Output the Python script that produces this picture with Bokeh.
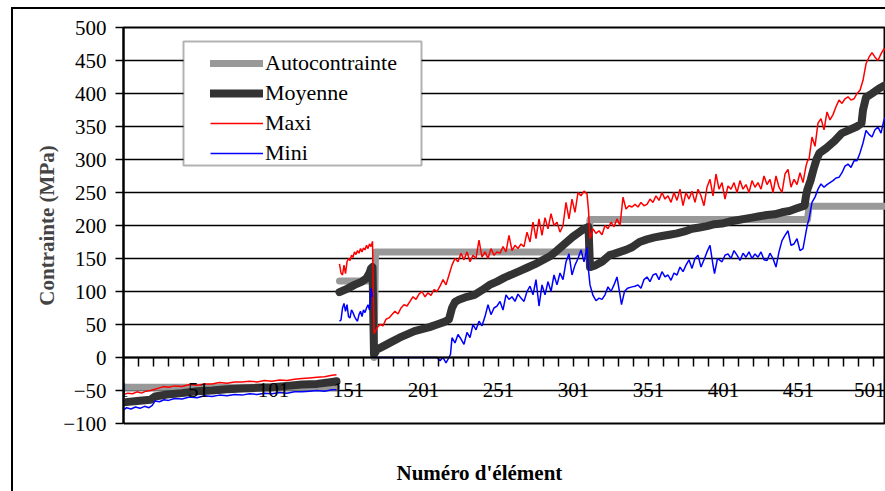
import math
from bokeh.plotting import figure
from bokeh.models import (LinearAxis, FixedTicker, Legend, LegendItem, Title,
                          BoxAnnotation, Range1d)
from bokeh.embed import file_html
from bokeh.resources import INLINE

nan = float("nan")

# ---------------- data ----------------
auto_x = [1, 143, 144, 145, 167, 168, 169, 311, 312, 457, 458, 510]
auto_y = [-45, -45, nan, 116, 116, 0, 160, 160, 209, 209, 229, 229]

moy_x = [1, 10, 19, 22, 30, 40, 50, 60, 70, 80, 90, 100, 110, 120, 130, 140, 143, 144,
         145, 150, 155, 160, 163, 165, 166, 167,
         168, 170, 175, 180, 185, 190, 195, 200, 205, 210, 215, 218, 220, 222, 225, 230, 235,
         240, 245, 250, 255, 260, 265, 270, 275, 280, 285, 290, 295, 300, 305, 308, 311,
         312, 315, 320, 325, 328, 332, 336, 340, 345, 350, 355, 360, 365, 370, 375, 380, 385,
         390, 395, 400, 405, 410, 415, 420, 425, 430, 435, 440, 445, 450, 455,
         456, 457, 459, 461, 463, 465, 470, 475, 480, 485, 490, 493, 494, 496, 500, 505, 510]
moy_y = [-68, -66, -64, -59, -56, -54, -51, -50, -48, -47, -46, -45, -43, -41, -40, -37, -36, nan,
         99, 104, 110, 115, 120, 128, 135, 137,
         5, 12, 18, 24, 30, 35, 40, 43, 46, 50, 54, 58, 75, 84, 88, 92, 95,
         102, 110, 115, 121, 126, 131, 136, 141, 147, 153, 162, 172, 182, 190, 195, 198,
         137, 139, 145, 155, 157, 160, 163, 167, 175, 179, 182, 184, 186, 188, 191, 195, 197,
         199, 202, 203, 206, 208, 210, 212, 214, 216, 217, 220, 222, 226, 230,
         245, 255, 268, 285, 300, 310, 318, 328, 340, 345, 350, 355, 375, 394, 400, 408, 414]

maxi_x = [1, 4, 7, 10, 13, 16, 19, 22, 25, 28, 31, 35, 40, 45, 50, 55, 60, 65, 70, 75, 80, 85,
          90, 95, 100, 105, 110, 115, 120, 125, 130, 135, 140, 143, 144,
          145, 146, 147, 148, 149, 150, 151, 152, 153, 154, 155, 156, 157, 158, 159, 160, 161,
          162, 163, 164, 165, 166, 167,
          168, 170, 172, 174, 176, 178, 180, 182, 184, 186, 188, 190, 192, 194, 196, 198, 200,
          202, 204, 206, 208, 210, 212, 214, 216, 218, 220, 222, 224, 226, 228, 230, 232, 234,
          236, 238, 240, 242, 244, 246, 248, 250, 252, 254, 256, 258, 260, 262, 264, 266, 268,
          270, 272, 274, 276, 278, 280, 282, 284, 286, 288, 290, 292, 294, 296, 298, 300, 302,
          304, 306, 308, 310, 311,
          312, 314, 316, 318, 320, 322, 324, 326, 328, 330, 332, 334, 336, 338, 340, 342, 344,
          346, 348, 350, 352, 354, 356, 358, 360, 362, 364, 366, 368, 370, 372, 374, 376, 378,
          380, 382, 384, 386, 388, 390, 392, 394, 396, 398, 400, 402, 404, 406, 408, 410, 412,
          414, 416, 418, 420, 422, 424, 426, 428, 430, 432, 434, 436, 438, 440, 442, 444, 446,
          448, 450, 452, 454, 456, 457,
          458, 460, 462, 464, 466, 468, 470, 472, 474, 476, 478, 480, 482, 484, 486, 488, 490,
          492, 494, 496, 498, 500, 502, 504, 506, 508, 510]
maxi_y = [-56, -54, -55, -52, -54, -51, -50, -48, -46, -44, -45, -43, -44, -41, -42, -40, -40,
          -38, -39, -37, -37, -36, -37, -35, -36, -34, -35, -33, -32, -31, -30, -29, -27, -26, nan,
          142, 128, 125, 140, 127, 145, 150, 147, 155, 152, 160, 156, 162, 158, 165, 160, 166,
          163, 170, 165, 172, 168, 176,
          36, 45, 50, 48, 58, 60, 65, 70, 66, 75, 80, 78, 85, 92, 88, 96, 100,
          92, 98, 94, 103, 100, 108, 118, 110, 125, 140, 150, 145, 158, 148, 160, 145, 155,
          150, 178, 152, 160, 150, 165, 155, 160, 158, 168, 160, 185, 162, 170, 165, 172, 168,
          190, 175, 205, 180, 210, 185, 212, 195, 218, 200, 205, 190, 200, 235, 210, 240, 220,
          250, 245, 252, 248, 223,
          180, 195, 188, 192, 186, 200, 195, 205, 198, 210, 200, 243, 225, 230, 228, 232, 228,
          235, 230, 232, 240, 235, 245, 238, 250, 240, 245, 235, 250, 238, 255, 230, 250, 240,
          252, 235, 255, 245, 230, 258, 270, 245, 278, 255, 265, 240, 260, 255, 265, 250, 268,
          255, 262, 250, 268, 258, 265, 255, 275, 262, 270, 250, 275, 258, 250, 278, 285, 258,
          270, 262, 280, 265, 290, 298,
          300, 334, 320, 355, 362, 345, 372, 360, 368, 380, 390, 385, 392, 395, 390, 392, 400,
          405, 420, 445, 455, 462, 455, 450, 460, 468, 462]

mini_x = [1, 3, 6, 9, 12, 15, 18, 20, 22, 25, 28, 31, 35, 40, 45, 50, 55, 60, 65, 70, 75, 80,
          85, 90, 95, 100, 105, 110, 115, 120, 125, 130, 135, 140, 143, 144,
          145, 146, 147, 148, 149, 150, 151, 152, 153, 154, 155, 156, 157, 158, 159, 160, 161,
          162, 163, 164, 165, 166, 167, 167.5,
          168, 180, 195, 210, 212, 214, 216, 218, 219, 220, 222, 224, 226, 228, 230, 232, 234,
          236, 238, 240, 242, 244, 246, 248, 250, 252, 254, 256, 258, 260, 262, 264, 266, 268,
          270, 272, 274, 276, 278, 280, 282, 284, 286, 288, 290, 292, 294, 296, 298, 300, 302,
          304, 306, 308, 310, 311,
          312, 314, 316, 318, 320, 322, 324, 326, 328, 330, 332, 333, 335, 337, 340, 342, 344,
          346, 348, 350, 352, 354, 356, 358, 360, 362, 364, 366, 368, 370, 372, 374, 376, 378,
          380, 382, 384, 386, 388, 390, 392, 394, 395, 397, 400, 402, 404, 406, 408, 410, 412,
          414, 416, 418, 420, 422, 424, 426, 428, 430, 432, 434, 436, 438, 440, 442, 444, 446,
          448, 450, 452, 454, 456, 457,
          458, 460, 462, 464, 466, 468, 470, 472, 474, 476, 478, 480, 482, 484, 486, 488, 490,
          492, 494, 496, 498, 500, 502, 504, 506, 508, 510]
mini_y = [-80, -76, -78, -75, -77, -74, -76, -73, -66, -67, -64, -65, -62, -63, -60, -61, -58,
          -59, -57, -58, -56, -57, -55, -56, -54, -55, -53, -54, -52, -52, -51, -50, -51, -49, -49, nan,
          55, 57, 75, 82, 70, 80, 62, 60, 72, 68, 62, 58, 55, 65, 70, 62, 72,
          68, 75, 80, 72, 105, 92, nan,
          0, 0, 0, 0, -5, 0, -8, 0, 5, 30, 22, 35, 28, 20, 38, 30, 50,
          42, 55, 48, 62, 80, 65, 75, 78, 85, 72, 95, 88, 92, 85, 96, 90, 85,
          100, 108, 95, 118, 78, 110, 95, 115, 100, 125, 110, 128, 118, 145, 157, 125, 140,
          150, 163, 145, 167, 132,
          110, 94, 86, 90, 88, 95, 107, 100, 110, 122, 95, 80, 100, 105, 107, 108, 110,
          105, 118, 122, 115, 125, 127, 118, 130, 122, 125, 117, 128, 125, 137, 130, 140, 148,
          135, 150, 155, 137, 148, 160, 170, 140, 127, 150, 145, 155, 157, 150, 162, 155, 147,
          158, 152, 160, 150, 157, 152, 160, 148, 147, 158, 150, 137, 160, 177, 185, 192, 170,
          172, 180, 162, 165, 190, 202,
          210, 235, 243, 255, 263, 258, 262, 265, 268, 272, 273, 280, 290, 293, 288, 298, 298,
          310, 325, 344, 338, 334, 345, 349, 340, 360, 368]

series_names = ["Autocontrainte", "Moyenne", "Maxi", "Mini"]
y_ticks = [-100, -50, 0, 50, 100, 150, 200, 250, 300, 350, 400, 450, 500]
x_tick_positions = list(range(1, 510, 10))
x_tick_labels = ["1", "51", "101", "151", "201", "251", "301", "351", "401", "451", "501"]

FONT = "Liberation Serif"

# ---------------- figure ----------------
p = figure(width=885, height=491, output_backend="svg", toolbar_location=None,
           title=None, x_range=Range1d(1, 509), y_range=Range1d(-100, 500),
           x_axis_location=None, y_axis_location="left",
           min_border_left=123, min_border_right=0, min_border_top=27,
           min_border_bottom=68)
p.background_fill_color = "white"
p.border_fill_color = None
p.outline_line_color = "black"
p.outline_line_width = 2
# outer chart border (only its left and top edges fall inside the picture)
p.styles = {"background": "linear-gradient(#000, #000) 11px 7px / 2px 100% no-repeat, "
                          "linear-gradient(#000, #000) 11px 7px / 100% 2px no-repeat, #fff"}

# y axis
ya = p.yaxis[0]
ya.ticker = FixedTicker(ticks=y_ticks)
ya.axis_line_color = "black"
ya.axis_line_width = 2
ya.major_tick_out = 8
ya.major_tick_in = 0
ya.major_tick_line_width = 1.5
ya.minor_tick_out = 0
ya.minor_tick_in = 0
ya.major_label_standoff = 9
ya.major_label_text_font = FONT
ya.major_label_text_font_size = "21px"
ya.major_label_text_color = "black"
ya.axis_label = "Contrainte (MPa)"
ya.axis_label_text_font = FONT
ya.axis_label_text_font_size = "21px"
ya.axis_label_text_font_style = "bold"
ya.axis_label_standoff = 1

p.ygrid.ticker = FixedTicker(ticks=y_ticks)
p.ygrid.grid_line_color = "black"
p.ygrid.grid_line_width = 1.5
p.xgrid.visible = False

# x axis crossing at 0
overrides = {}
for t in x_tick_positions:
    overrides[t] = str(t) if str(t) in x_tick_labels else ""
xa = LinearAxis(fixed_location=0, ticker=FixedTicker(ticks=x_tick_positions),
                major_label_overrides=overrides,
                axis_line_color="black", axis_line_width=2,
                major_tick_out=9, major_tick_in=0, major_tick_line_width=1.5,
                minor_tick_out=0, minor_tick_in=0,
                major_label_standoff=16,
                major_label_text_font=FONT, major_label_text_font_size="21px",
                major_label_text_color="black")
p.add_layout(xa, "below")

# blank band just below the plot area, so the x title sits lower
spacer = LinearAxis(ticker=FixedTicker(ticks=[1]), major_label_overrides={1: ""},
                    axis_line_color=None,
                    major_tick_line_color="white", major_tick_line_width=1,
                    major_tick_out=30, major_tick_in=0, minor_tick_out=0, minor_tick_in=0,
                    major_label_standoff=0, major_label_text_font_size="1px",
                    major_label_text_color="white")
p.add_layout(spacer, "below")

# ---------------- series ----------------
r_auto = p.line(auto_x, auto_y, line_color="#999999", line_width=7,
                line_cap="round", line_join="round")
r_moy = p.line(moy_x, moy_y, line_color="#333333", line_width=8,
               line_cap="round", line_join="round")
r_max = p.line(maxi_x, maxi_y, line_color="#ff0000", line_width=1.5)
r_min = p.line(mini_x, mini_y, line_color="#0000ff", line_width=1.5)

# legend box
lbox = BoxAnnotation(left=60, right=298, top=382, bottom=258,
                     left_units="screen", right_units="screen",
                     top_units="screen", bottom_units="screen",
                     fill_color="white", fill_alpha=1,
                     line_color="black", line_width=2)
p.add_layout(lbox)

legend = Legend(items=[LegendItem(label=series_names[0], renderers=[r_auto]),
                       LegendItem(label=series_names[1], renderers=[r_moy]),
                       LegendItem(label=series_names[2], renderers=[r_max]),
                       LegendItem(label=series_names[3], renderers=[r_min])],
                location=(87, 257), orientation="vertical",
                padding=0, spacing=4, margin=0,
                label_height=24, glyph_height=24, glyph_width=53,
                label_standoff=2,
                border_line_alpha=0, background_fill_alpha=0,
                label_text_font=FONT, label_text_font_size="22px",
                label_text_color="black")
p.add_layout(legend)

xt = Title(text="Numéro d'élément", align="left", offset=273, standoff=10,
           text_font=FONT, text_font_size="21px", text_font_style="bold",
           text_color="black")
p.add_layout(xt, "below")

open("out.html", "w").write(file_html(p, INLINE))
